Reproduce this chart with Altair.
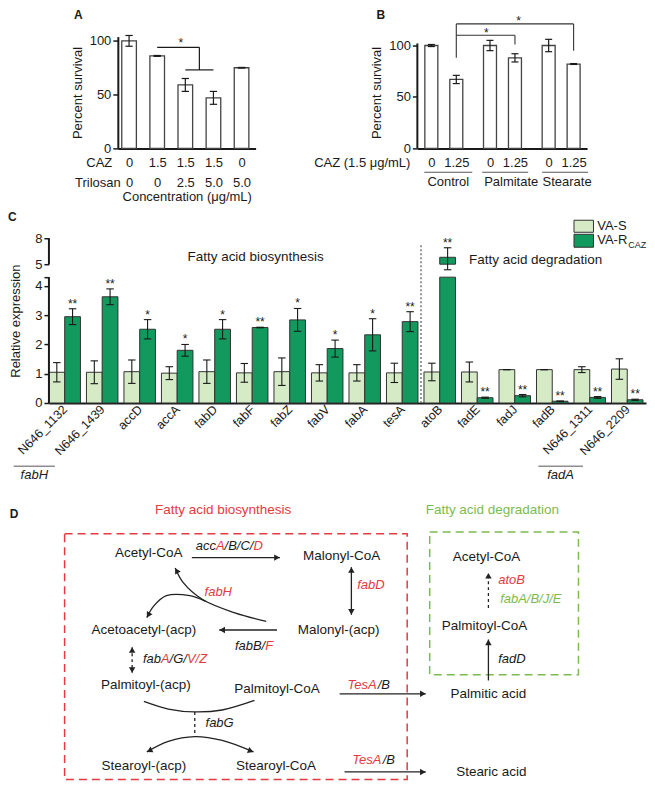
import json
import math
import altair as alt
import pandas as pd

FONT = "Liberation Sans"
INK = "#1a1a1a"
LIGHT = "#d4ebc6"
DARK = "#11995e"
RED = "#e53a40"
GREEN = "#7cbb4e"

# ---------------- Panel A data ----------------
a_caz = ["0", "1.5", "1.5", "1.5", "0"]
a_tri = ["0", "0", "2.5", "5.0", "5.0"]
a_val = [100, 86, 59, 47, 75]
a_err = [5, 0.4, 6, 6, 0.3]

# ---------------- Panel B data ----------------
b_caz = ["0", "1.25", "0", "1.25", "0", "1.25"]
b_group = ["Control", "Palmitate", "Stearate"]
b_val = [100, 67, 100, 88, 100, 82]
b_err = [1, 4, 5, 4, 6, 0.4]

# ---------------- Panel C data ----------------
genes = ["N646_1132", "N646_1439", "accD", "accA", "fabD", "fabF", "fabZ", "fabV",
         "fabA", "tesA", "atoB", "fadE", "fadJ", "fadB", "N646_1311", "N646_2209"]
vas_val = [1.05, 1.05, 1.07, 1.02, 1.07, 1.03, 1.07, 1.03, 1.03, 1.03, 1.06, 1.06, 1.14, 1.14, 1.14, 1.16]
vas_err = [0.33, 0.39, 0.40, 0.22, 0.40, 0.32, 0.47, 0.28, 0.28, 0.33, 0.30, 0.34, 0.0, 0.0, 0.10, 0.35]
var_val = [2.95, 3.63, 2.52, 1.80, 2.52, 2.58, 2.84, 1.86, 2.33, 2.78, 5.8, 0.18, 0.25, 0.06, 0.19, 0.11]
var_err = [0.27, 0.27, 0.33, 0.20, 0.33, 0.01, 0.39, 0.29, 0.55, 0.34, 1.1, 0.02, 0.04, 0.01, 0.03, 0.02]
var_sig = ["**", "**", "*", "*", "*", "**", "*", "*", "*", "**", "**", "**", "**", "**", "**", "**"]

# ---------------- Panel D content ----------------
d_nodes = ["Acetyl-CoA", "Malonyl-CoA", "Malonyl-(acp)", "Acetoacetyl-(acp)", "Palmitoyl-(acp)",
           "Palmitoyl-CoA", "Stearoyl-(acp)", "Stearoyl-CoA", "Palmitic acid", "Stearic acid",
           "Acetyl-CoA", "Palmitoyl-CoA"]
d_node_x = [145, 342, 339, 140, 142, 276, 140, 275, 492, 495, 490, 488]
d_node_y = [549, 552, 630, 630, 688, 692, 773, 773, 697, 779, 553, 626]


def axis_common(**kw):
    base = dict(grid=False, labelFontSize=13, titleFontSize=13, titleFontWeight="normal",
                domainColor=INK, tickColor=INK, labelColor=INK, titleColor=INK,
                labelOverlap=False, tickCount=60, format="d")
    base.update(kw)
    return alt.Axis(**base)


# ======================= Panel A =======================
a_pos = [1, 2, 3, 4, 5]
A_W, A_H = 138, 112
a_xs = alt.Scale(domain=[0.6, 5.5], nice=False, zero=False)
a_ys = alt.Scale(domain=[0, 104], nice=False, zero=False)
a_df = pd.DataFrame({"pos": a_pos, "val": a_val, "err": a_err})
a_df["x1"] = a_df.pos - 0.26
a_df["x2"] = a_df.pos + 0.26
a_df["lo"] = a_df.val - a_df.err
a_df["hi"] = a_df.val + a_df.err
a_df["c1"] = a_df.pos - 0.13
a_df["c2"] = a_df.pos + 0.13
a_df["zero"] = 0

a_label_expr = f"[{json.dumps(a_caz)}[datum.value - 1], {json.dumps(a_tri)}[datum.value - 1]]"
a_xaxis = axis_common(values=a_pos, labelExpr=a_label_expr, ticks=False, tickSize=0, labelPadding=8,
                      labelLineHeight=20, labelAngle=0, domainWidth=2, title="Concentration (μg/mL)",
                      titlePadding=1, labelFlush=False)
a_yaxis = axis_common(values=[0, 50, 100], title="Percent survival", tickSize=5, tickWidth=1.5,
                      domainWidth=2, labelPadding=2, titlePadding=5)

a_base = alt.Chart(a_df)
a_bars = a_base.mark_rect(fill="white", stroke="#444", strokeWidth=1.3).encode(
    x=alt.X("x1:Q", scale=a_xs, axis=a_xaxis), x2="x2:Q",
    y=alt.Y("zero:Q", scale=a_ys, axis=a_yaxis), y2="val:Q")
a_err_l = a_base.mark_rule(color=INK, strokeWidth=1.2).encode(x="pos:Q", y="lo:Q", y2="hi:Q")
a_cap_h = a_base.mark_rule(color=INK, strokeWidth=1.2).encode(x="c1:Q", x2="c2:Q", y="hi:Q")
a_cap_l = a_base.mark_rule(color=INK, strokeWidth=1.2).encode(x="c1:Q", x2="c2:Q", y="lo:Q")
a_br_df = pd.DataFrame({"x1": [2, 3.5, 3], "x2": [3.5, 3.5, 4], "y1": [94, 73, 73], "y2": [94, 94, 73]})
a_br = alt.Chart(a_br_df).mark_rule(color=INK, strokeWidth=1.2).encode(
    x="x1:Q", x2="x2:Q", y="y1:Q", y2="y2:Q")
a_star = alt.Chart(pd.DataFrame({"x": [2.84], "y": [94.5], "t": ["*"]})).mark_text(
    fontSize=12, baseline="alphabetic", color=INK).encode(x="x:Q", y="y:Q", text="t:N")
a_rowlab = alt.Chart(pd.DataFrame({"x": [-0.52, -0.92], "y": [-13.9, -32.5], "t": ["CAZ", "Trilosan"]})).mark_text(
    fontSize=13, align="left", baseline="middle", color=INK).encode(x="x:Q", y="y:Q", text="t:N")
a_letter = alt.Chart(pd.DataFrame({"x": [-0.96], "y": [124], "t": ["A"]})).mark_text(
    fontSize=12, fontWeight="bold", align="left", baseline="middle", color=INK).encode(x="x:Q", y="y:Q", text="t:N")
panel_a = alt.layer(a_bars, a_err_l, a_cap_h, a_cap_l, a_br, a_star, a_rowlab, a_letter).properties(
    width=A_W, height=A_H)

# ======================= Panel B =======================
b_pos = [1, 2, 3.35, 4.35, 5.7, 6.7]
B_W, B_H = 170, 112
b_xs = alt.Scale(domain=[0.44, 7.24], nice=False, zero=False)
b_ys = alt.Scale(domain=[0, 108.7], nice=False, zero=False)
b_df = pd.DataFrame({"pos": b_pos, "val": b_val, "err": b_err})
b_df["x1"] = b_df.pos - 0.26
b_df["x2"] = b_df.pos + 0.26
b_df["lo"] = b_df.val - b_df.err
b_df["hi"] = b_df.val + b_df.err
b_df["c1"] = b_df.pos - 0.14
b_df["c2"] = b_df.pos + 0.14
b_df["zero"] = 0
b_label_expr = f"{json.dumps(b_caz)}[indexof({json.dumps(b_pos)}, datum.value)]"
b_xaxis = axis_common(values=b_pos, labelExpr=b_label_expr, ticks=False, tickSize=0, labelPadding=8,
                      labelAngle=0, domainWidth=2, title=None, labelFlush=False)
b_yaxis = axis_common(values=[0, 50, 100], title="Percent survival", tickSize=5, tickWidth=1.5,
                      domain=False, labelPadding=2, titlePadding=5)
b_base = alt.Chart(b_df)
b_bars = b_base.mark_rect(fill="white", stroke="#444", strokeWidth=1.3).encode(
    x=alt.X("x1:Q", scale=b_xs, axis=b_xaxis), x2="x2:Q",
    y=alt.Y("zero:Q", scale=b_ys, axis=b_yaxis), y2="val:Q")
b_err_l = b_base.mark_rule(color=INK, strokeWidth=1.2).encode(x="pos:Q", y="lo:Q", y2="hi:Q")
b_cap_h = b_base.mark_rule(color=INK, strokeWidth=1.2).encode(x="c1:Q", x2="c2:Q", y="hi:Q")
b_cap_l = b_base.mark_rule(color=INK, strokeWidth=1.2).encode(x="c1:Q", x2="c2:Q", y="lo:Q")
b_dom = alt.Chart(pd.DataFrame({"x": [0.44], "y1": [0], "y2": [102]})).mark_rule(
    color=INK, strokeWidth=2).encode(x="x:Q", y="y1:Q", y2="y2:Q")
b_br_df = pd.DataFrame({"x1": [2, 2, 6.7, 2, 4.35], "x2": [2, 6.7, 6.7, 4.35, 4.35],
                        "y1": [88, 121, 95, 110, 101], "y2": [121, 121, 121, 110, 110]})
b_br = alt.Chart(b_br_df).mark_rule(color="#333", strokeWidth=1.1).encode(
    x="x1:Q", x2="x2:Q", y="y1:Q", y2="y2:Q")
b_star = alt.Chart(pd.DataFrame({"x": [3.2, 4.5], "y": [108.5, 120], "t": ["*", "*"]})).mark_text(
    fontSize=12, baseline="alphabetic", color=INK).encode(x="x:Q", y="y:Q", text="t:N")
b_gl = alt.Chart(pd.DataFrame({"x1": [0.72, 3.04, 5.44], "x2": [2.64, 4.88, 7.28], "y": [-23.2] * 3})).mark_rule(
    color="#555", strokeWidth=1).encode(x="x1:Q", x2="x2:Q", y="y:Q")
b_gn = alt.Chart(pd.DataFrame({"x": [1.68, 4.2, 6.44], "y": [-32.2] * 3, "t": b_group})).mark_text(
    fontSize=13, baseline="middle", color=INK).encode(x="x:Q", y="y:Q", text="t:N")
b_caz_lab = alt.Chart(pd.DataFrame({"x": [0.16], "y": [-14.4], "t": ["CAZ (1.5 μg/mL)"]})).mark_text(
    fontSize=13, align="right", baseline="middle", color=INK).encode(x="x:Q", y="y:Q", text="t:N")
b_letter = alt.Chart(pd.DataFrame({"x": [-1.2], "y": [130], "t": ["B"]})).mark_text(
    fontSize=12, fontWeight="bold", align="left", baseline="middle", color=INK).encode(x="x:Q", y="y:Q", text="t:N")
panel_b = alt.layer(b_bars, b_err_l, b_cap_h, b_cap_l, b_dom, b_br, b_star, b_gl, b_gn, b_caz_lab,
                    b_letter).properties(width=B_W, height=B_H)

spacer = alt.Chart(pd.DataFrame({"v": [0]})).mark_point(opacity=0).encode(
    x=alt.X("v:Q", axis=None), y=alt.Y("v:Q", axis=None)).properties(width=59, height=112)

row1 = alt.hconcat(spacer, alt.hconcat(panel_a, panel_b, spacing=162, bounds="flush"),
                   spacing=10, bounds="flush")

# ======================= Panel C =======================
n = len(genes)
C_W, C_H = 598, 165
BRK_LO, BRK_HI = 4.3, 5.0
XMIN, XMAX = -0.42, 15.5
PX_PER_UNIT = C_W / (XMAX - XMIN)
c_xs = alt.Scale(domain=[XMIN, XMAX], nice=False, zero=False)
c_ys = alt.Scale(domain=[0, BRK_LO, BRK_HI, 8], range=[C_H, 39, 26, 0], nice=False, zero=False)

seg_rows, pt_rows = [], []
for i, g in enumerate(genes):
    for ser, v, e, off in [("VA-S", vas_val[i], vas_err[i], -0.42), ("VA-R", var_val[i], var_err[i], 0.0)]:
        x1, x2 = i + off, i + off + 0.42
        xc = (x1 + x2) / 2
        seg_rows.append({"ser": ser, "x1": x1, "x2": x2, "y0": 0.0, "y1": min(v, BRK_LO)})
        if v > BRK_HI:
            seg_rows.append({"ser": ser, "x1": x1, "x2": x2, "y0": BRK_HI, "y1": v})
        pt_rows.append({"ser": ser, "xc": xc, "c1": xc - 0.1, "c2": xc + 0.1, "lo": v - e, "hi": v + e,
                        "sig": var_sig[i] if ser == "VA-R" else ""})
c_seg = pd.DataFrame(seg_rows)
c_pt = pd.DataFrame(pt_rows)
col_scale = alt.Scale(domain=["VA-S", "VA-R"], range=[LIGHT, DARK])

c_yaxis = axis_common(values=[0, 1, 2, 3, 4, BRK_LO, 5, 8],
                      labelExpr=f"datum.value == {BRK_LO} ? '' : datum.label",
                      title="Relative expression", domain=False, tickSize=5, tickWidth=1.5,
                      labelPadding=2, titlePadding=12)
c_xaxis = axis_common(values=list(range(n)), labelExpr=f"{json.dumps(genes)}[datum.value]",
                      labelAngle=315, labelAlign="right", labelBaseline="middle", labelFontSize=12.5,
                      labelPadding=4, ticks=False, tickSize=0, domainWidth=2, title=None,
                      labelFlush=False)

c_bars = alt.Chart(c_seg).mark_rect(stroke="#333", strokeWidth=1).encode(
    x=alt.X("x1:Q", scale=c_xs, axis=c_xaxis), x2="x2:Q",
    y=alt.Y("y0:Q", scale=c_ys, axis=c_yaxis), y2="y1:Q",
    color=alt.Color("ser:N", scale=col_scale, legend=None))
c_base = alt.Chart(c_pt)
c_err = c_base.mark_rule(color=INK, strokeWidth=1.1).encode(x="xc:Q", y="lo:Q", y2="hi:Q")
c_cap_h = c_base.mark_rule(color=INK, strokeWidth=1.1).encode(x="c1:Q", x2="c2:Q", y="hi:Q")
c_cap_l = c_base.mark_rule(color=INK, strokeWidth=1.1).encode(x="c1:Q", x2="c2:Q", y="lo:Q")
c_star = c_base.transform_filter("datum.sig != ''").mark_text(
    fontSize=12, baseline="alphabetic", dy=-1, color=INK).encode(x="xc:Q", y="hi:Q", text="sig:N")
c_dom = alt.Chart(pd.DataFrame({"x": [XMIN, XMIN], "y1": [0, BRK_HI], "y2": [BRK_LO, 8]})).mark_rule(
    color=INK, strokeWidth=2).encode(x="x:Q", y="y1:Q", y2="y2:Q")
c_sep = alt.Chart(pd.DataFrame({"x": [9.5], "y1": [0], "y2": [7.3]})).mark_rule(
    color="#777", strokeWidth=1.5, strokeDash=[2, 2]).encode(x="x:Q", y="y1:Q", y2="y2:Q")
leg_rect = alt.Chart(pd.DataFrame({"ser": ["VA-S", "VA-R"], "x1": [13.58, 13.58], "x2": [14.1, 14.1],
                                   "y1": [10.08, 8.46], "y2": [8.69, 6.96]})).mark_rect(
    stroke="#333", strokeWidth=1).encode(x="x1:Q", x2="x2:Q", y="y1:Q", y2="y2:Q",
                                          color=alt.Color("ser:N", scale=col_scale, legend=None))
leg_text = alt.Chart(pd.DataFrame({"x": [14.2, 14.2], "y": [9.38, 7.77], "t": ["VA-S", "VA-R"]})).mark_text(
    fontSize=13, align="left", baseline="middle", color=INK).encode(x="x:Q", y="y:Q", text="t:N")
ARIAL = {' ': 278, '-': 333, '/': 278, 'A': 667, 'B': 667, 'C': 722, 'D': 722, 'E': 667, 'F': 611,
         'G': 778, 'H': 722, 'J': 500, 'R': 722, 'S': 667, 'T': 611, 'V': 667, 'Z': 611, 'a': 556,
         'b': 556, 'c': 500, 'd': 556, 'e': 556, 'f': 278, 'o': 556, 's': 500, 't': 278}


def tw(s, size):
    return sum(ARIAL.get(ch, 556) for ch in s) * size / 1000.0


leg_sub = alt.Chart(pd.DataFrame({"x": [14.2 + tw("VA-R", 13) / PX_PER_UNIT], "y": [7.25], "t": ["CAZ"]})).mark_text(
    fontSize=9, align="left", baseline="middle", color=INK).encode(x="x:Q", y="y:Q", text="t:N")
c_notes = alt.Chart(pd.DataFrame({"x": [5.09, 10.78], "y": [5.8, 5.46],
                                  "t": ["Fatty acid biosynthesis", "Fatty acid degradation"],
                                  "a": ["center", "left"]}))
c_note1 = c_notes.transform_filter("datum.a == 'center'").mark_text(
    fontSize=13.5, align="center", baseline="middle", color=INK).encode(x="x:Q", y="y:Q", text="t:N")
c_note2 = c_notes.transform_filter("datum.a == 'left'").mark_text(
    fontSize=13.5, align="left", baseline="middle", color=INK).encode(x="x:Q", y="y:Q", text="t:N")
c_ul = alt.Chart(pd.DataFrame({"x1": [-1.36, 12.63], "x2": [-0.26, 13.82], "y": [-2.16, -2.16]})).mark_rule(
    color="#555", strokeWidth=1).encode(x="x1:Q", x2="x2:Q", y="y:Q")
c_ult = alt.Chart(pd.DataFrame({"x": [-0.81, 13.22], "y": [-2.47, -2.47], "t": ["fabH", "fadA"]})).mark_text(
    fontSize=13, fontStyle="italic", baseline="middle", color=INK).encode(x="x:Q", y="y:Q", text="t:N")
c_letter = alt.Chart(pd.DataFrame({"x": [-1.51], "y": [10.4], "t": ["C"]})).mark_text(
    fontSize=12, fontWeight="bold", align="left", baseline="middle", color=INK).encode(x="x:Q", y="y:Q", text="t:N")
panel_c = alt.layer(c_bars, c_err, c_cap_h, c_cap_l, c_star, c_dom, c_sep, leg_rect, leg_text, leg_sub,
                    c_note1, c_note2, c_ul, c_ult, c_letter).properties(width=C_W, height=C_H)

# ======================= Panel D =======================
D_W, D_H = 598, 290
DX0, DX1, DY0, DY1 = 43, 653, 486, 790
KX = D_W / (DX1 - DX0)
d_xs = alt.Scale(domain=[DX0, DX1], nice=False, zero=False)
d_ys = alt.Scale(domain=[DY0, DY1], nice=False, zero=False, reverse=True)
K, R, G = INK, RED, GREEN

gene_specs = [
    (193, 542, [("acc", K), ("A", R), ("/B/C/", K), ("D", R)]),
    (358, 583, [("fabD", R)]),
    (202, 590, [("fabH", R)]),
    (233, 647, [("fabB/", K), ("F", R)]),
    (139, 660, [("fab", K), ("A", R), ("/G/", K), ("V/Z", R)]),
    (203, 728, [("fabG", K)]),
    (348, 688, [("TesA", R), ("/B", K)]),
    (353, 767, [("TesA", R), ("/B", K)]),
    (502, 577, [("atoB", R)]),
    (504, 597, [("fabA/B/J/E", G)]),
    (502, 660, [("fadD", K)]),
]
g_rows = []
for x0, y, parts in gene_specs:
    x = x0
    for t, c in parts:
        g_rows.append({"t": t, "x": x, "y": y, "c": c})
        x += tw(t, 13) / KX
d_gene = pd.DataFrame(g_rows)

solid_paths = [
    ([(189, 554), (279, 554)], "end"),
    ([(352, 564), (352, 614)], "both"),
    ([(276, 630), (217, 630)], "end"),
    ([(340, 697), (428, 697)], "end"),
    ([(345, 779), (428, 779)], "end"),
    ([(492, 683), (492, 640)], "end"),
    ([(265, 621), (233, 612), (200, 598), (180, 580), (172, 565)], "end"),
    ([(203, 600), (187, 594), (163, 594), (150, 605), (143, 617)], "end"),
    ([(140, 705), (165, 713), (192, 716), (220, 714), (253, 704)], "none"),
    ([(143, 758), (165, 747), (192, 742), (220, 746), (252, 758)], "both"),
]
dashed_paths = [
    ([(128, 648), (128, 675)], "both"),
    ([(492, 607), (492, 570)], "end"),
    ([(192, 716), (192, 742)], "none"),
]


def build(paths, start_id):
    lrows, hrows = [], []
    for j, (pts, heads) in enumerate(paths):
        pid = start_id + j
        for k, (x, y) in enumerate(pts):
            lrows.append({"pid": pid, "k": k, "x": x, "y": y})
        ends = []
        if heads in ("end", "both"):
            ends.append((pts[-2], pts[-1]))
        if heads in ("start", "both"):
            ends.append((pts[1], pts[0]))
        for (xa, ya), (xb, yb) in ends:
            dx, dy = xb - xa, yb - ya
            L = math.hypot(dx, dy)
            ux, uy = dx / L, dy / L
            ang = math.degrees(math.atan2(dx, -dy)) % 360
            hrows.append({"x": xb - ux * 3, "y": yb - uy * 3, "ang": ang})
    return lrows, hrows


ls, hs = build(solid_paths, 0)
ld, hd = build(dashed_paths, 100)
d_ls = pd.DataFrame(ls)
d_ld = pd.DataFrame(ld)
d_heads = pd.DataFrame(hs + hd)

d_node_df = pd.DataFrame({"t": d_nodes, "x": d_node_x, "y": d_node_y})
d_title_df = pd.DataFrame({"t": ["Fatty acid biosynthesis", "Fatty acid degradation"],
                           "x": [221, 496], "y": [504, 504], "c": [RED, GREEN]})
d_box_df = pd.DataFrame({"x1": [59, 432], "x2": [409, 584], "y1": [529, 527], "y2": [787, 677], "c": [RED, GREEN]})

dX = lambda f: alt.X(f, scale=d_xs, axis=None)
dY = lambda f: alt.Y(f, scale=d_ys, axis=None)

d_boxes = alt.Chart(d_box_df).mark_rect(fillOpacity=0, strokeWidth=1.5, strokeDash=[8, 5]).encode(
    x=dX("x1:Q"), x2="x2:Q", y=dY("y1:Q"), y2="y2:Q", stroke=alt.Stroke("c:N", scale=None))
d_line_s = alt.Chart(d_ls).mark_line(color="#222", strokeWidth=1.3, interpolate="catmull-rom").encode(
    x=dX("x:Q"), y=dY("y:Q"), detail="pid:N", order="k:Q")
d_line_d = alt.Chart(d_ld).mark_line(color="#222", strokeWidth=1.3, strokeDash=[3, 3]).encode(
    x=dX("x:Q"), y=dY("y:Q"), detail="pid:N", order="k:Q")
d_head = alt.Chart(d_heads).mark_point(shape="triangle-up", filled=True, size=42, color="#222", opacity=1).encode(
    x=dX("x:Q"), y=dY("y:Q"), angle=alt.Angle("ang:Q", scale=None))
d_node = alt.Chart(d_node_df).mark_text(fontSize=13.5, baseline="middle", color=INK).encode(
    x=dX("x:Q"), y=dY("y:Q"), text="t:N")
d_gtxt = alt.Chart(d_gene).mark_text(fontSize=13, fontStyle="italic", align="left", baseline="middle").encode(
    x=dX("x:Q"), y=dY("y:Q"), text="t:N", color=alt.Color("c:N", scale=None))
d_title = alt.Chart(d_title_df).mark_text(fontSize=13.5, baseline="middle").encode(
    x=dX("x:Q"), y=dY("y:Q"), text="t:N", color=alt.Color("c:N", scale=None))
d_letter = alt.Chart(pd.DataFrame({"x": [3], "y": [508], "t": ["D"]})).mark_text(
    fontSize=12, fontWeight="bold", align="left", baseline="middle", color=INK).encode(
    x=dX("x:Q"), y=dY("y:Q"), text="t:N")
panel_d = alt.layer(d_boxes, d_line_s, d_line_d, d_head, d_node, d_gtxt, d_title, d_letter).properties(
    width=D_W, height=D_H)

# row1 (nested concat) counts as zero height in the flush layout, so its full step is the spacing
lower = alt.vconcat(panel_c, panel_d, spacing=90, bounds="flush")
chart = alt.vconcat(row1, lower, spacing=202, bounds="flush").properties(
    padding={"left": 0, "top": 0, "right": 0, "bottom": 0}
).configure(font=FONT).configure_view(stroke=None).configure_axis(
    labelFont=FONT, titleFont=FONT, labelOverlap=False, labelFlush=False)

chart.save("out.html", embed_options={"renderer": "svg", "actions": False})
